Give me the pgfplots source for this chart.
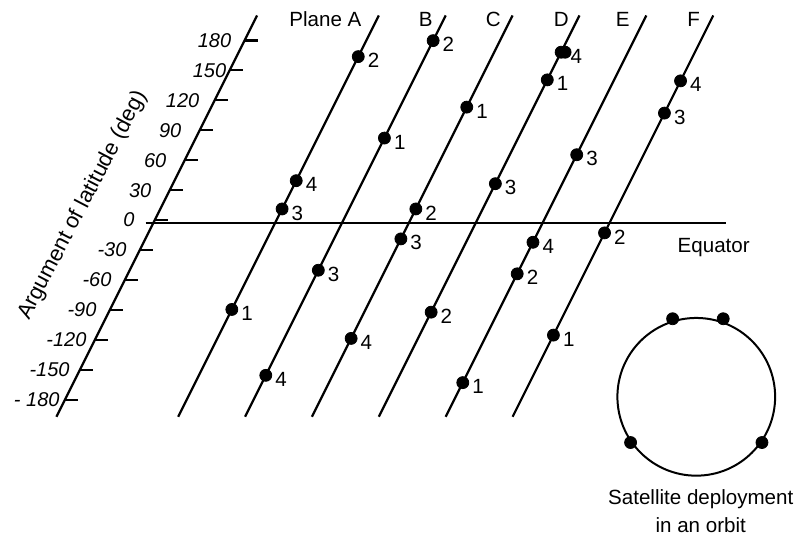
\documentclass[border=0pt]{standalone}
\usepackage{fontspec}
\setmainfont{Liberation Sans}
\usepackage{pgfplots}
\usepackage{pgfplotstable}
\pgfplotsset{compat=1.18}

% u = position across the planes, v = argument of latitude (deg)
\pgfplotstableread{
u   v      lab
277 163.8  2
277 39.5   4
277 11.2   3
277 -89.5  1
344 179.8  2
344 82.2   1
344 -50.2  3
344 -155.5 4
411 113.2  1
411 11.2   2
411 -18.8  3
411 -118.5 4
478 168.2  4
478 140.5  1
478 36.5   3
478 -92.2  2
545 65.5   3
545 -22.2  4
545 -53.8  2
545 -162.8 1
612 139.5  4
612 107.2  3
612 -12.8  2
612 -115.2 1
}\sats

\newcommand\txt{\fontsize{10.3}{13.7}\selectfont}
\newcommand\gap[2]{#1\kern#2pt\relax}

\begin{document}
\begin{tikzpicture}
\begin{axis}[
    x={(0.5pt,0pt)}, y={(0.25pt,0.5pt)},
    xmin=155, xmax=620, ymin=-197, ymax=205,
    axis y line*=left, axis x line=none,
    clip=false,
    ytick={-180,-150,...,180},
    yticklabels={\gap{- 180}{0.5},\gap{-150}{3},\gap{-120}{2},\gap{-90}{4.5},
        \gap{-60}{4.5},\gap{-30}{4.5},\gap{0}{8},\gap{30}{7},\gap{60}{7},
        \gap{90}{7},\gap{120}{5.5},\gap{150}{-0.5},\gap{180}{4.5}},
    yticklabel style={font=\fontsize{10}{12}\selectfont\itshape,
        anchor=east, inner sep=0pt, xshift=-2pt},
    ytick align=inside, major tick length=6.5pt,
    tick style={black, line width=1.1pt},
    y axis line style={line width=1.1pt, -},
    ylabel={Argument of latitude (deg)},
    ylabel style={at={(axis cs:75.6,14.7)}, anchor=center, rotate=-27.5,
        font=\fontsize{11}{13}\selectfont},
]
% planes
\addplot[black, line width=1.1pt, mark=none] coordinates {(277,-197) (277,205)};
\addplot[black, line width=1.1pt, mark=none] coordinates {(344,-197) (344,205)};
\addplot[black, line width=1.1pt, mark=none] coordinates {(411,-197) (411,205)};
\addplot[black, line width=1.1pt, mark=none] coordinates {(478,-197) (478,205)};
\addplot[black, line width=1.1pt, mark=none] coordinates {(545,-197) (545,205)};
\addplot[black, line width=1.1pt, mark=none] coordinates {(612,-197) (612,205)};
% equator
\addplot[black, line width=1.1pt, mark=none] coordinates {(147.25,-2.5) (728.25,-2.5)};

% satellites
\addplot[only marks, mark=*, mark size=3pt, black,
    nodes near coords, point meta=explicit symbolic,
    every node near coord/.append style={anchor=west, inner sep=0pt,
        xshift=4.6pt, yshift=-2pt, font=\txt}]
    table[x=u, y=v, meta=lab] {\sats};
\addplot[only marks, mark=*, mark size=3pt, black] coordinates {(482,168.2)};

% deployment in one orbit
\draw[line width=1pt] (axis cs:786,-177) circle[radius=39.5pt];
\addplot[only marks, mark=*, mark size=3pt, black] coordinates {
    (723.2,-98.8) (773.9,-98.8) (743.1,-222.8) (874.7,-222.8)};

\node[font=\txt] at (axis cs:225.4,201.2) {Plane A};
\node[font=\txt] at (axis cs:326,201.2) {B};
\node[font=\txt] at (axis cs:393.6,201.2) {C};
\node[font=\txt] at (axis cs:461.6,201.2) {D};
\node[font=\txt] at (axis cs:523.3,201.2) {E};
\node[font=\txt] at (axis cs:594.3,201.2) {F};
\node[font=\txt] at (axis cs:728.9,-27.8) {Equator};
\node[font=\txt, align=center] at (axis cs:847.75,-291.5)
    {Satellite deployment\\in an orbit};

\path (axis cs:-110.25,220.5) rectangle (axis cs:959.25,-318.5);
\end{axis}
\end{tikzpicture}
\end{document}
